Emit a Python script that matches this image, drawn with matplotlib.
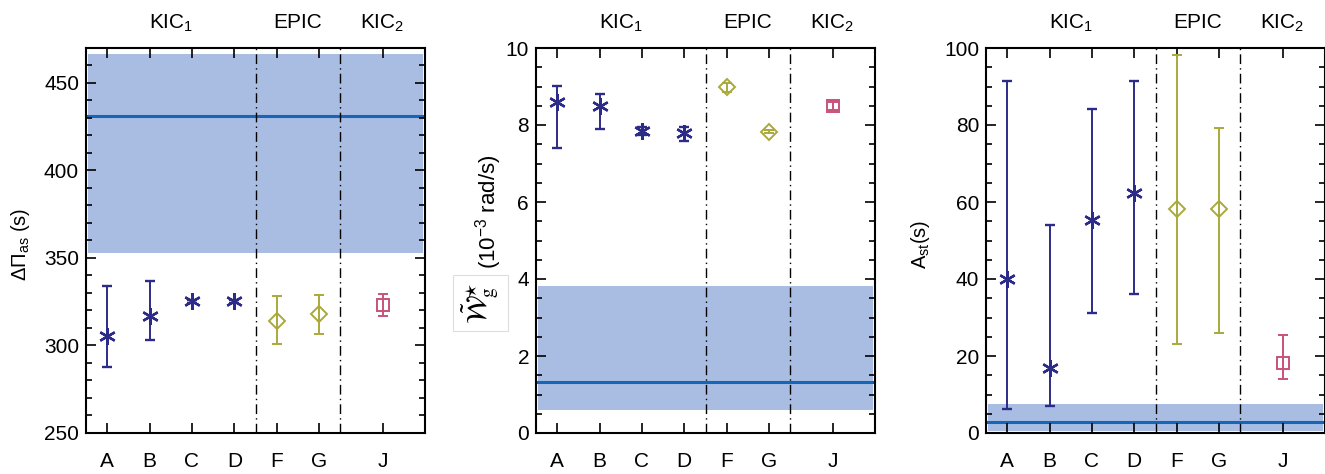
import matplotlib
matplotlib.use('Agg')
import matplotlib.pyplot as plt
import matplotlib.transforms as mtransforms
from matplotlib.ticker import MultipleLocator

plt.rcParams['font.family'] = ['Liberation Sans', 'DejaVu Sans']
plt.rcParams['mathtext.fontset'] = 'custom'
plt.rcParams['mathtext.rm'] = 'Liberation Sans'
plt.rcParams['mathtext.it'] = 'Liberation Sans:italic'

# stars and groups
etykiety = ['A', 'B', 'C', 'D', 'F', 'G', 'J']
pozycje = [1, 2, 3, 4, 5, 6, 7.5]
grupy = ['KIC$_1$', 'EPIC', 'KIC$_2$']
pozycje_grup = [2.5, 5.5, 7.5]
granice = [4.5, 6.5]

# panel 1: Delta Pi_as (s)
dpi_wart = [305.6, 316.7, 325.2, 325.2, 313.8, 318.0, 323.1]
dpi_gora = [334.2, 336.7, 326.2, 326.2, 328.1, 328.9, 329.2]
dpi_dol = [287.7, 303.0, 324.2, 324.2, 301.0, 306.7, 317.0]
dpi_pas = [352.9, 466.6]
dpi_linia = 431.0

# panel 2: W_g (1e-3 rad/s)
w_wart = [8.60, 8.50, 7.85, 7.79, 8.99, 7.83, 8.50]
w_gora = [9.02, 8.81, 7.95, 7.94, 9.10, 7.88, 8.61]
w_dol = [7.40, 7.90, 7.75, 7.58, 8.87, 7.78, 8.40]
w_pas = [0.61, 3.83]
w_linia = 1.32

# panel 3: A_st (s)
a_wart = [40.0, 17.0, 55.2, 62.3, 58.2, 58.2, 18.1]
a_gora = [91.4, 54.1, 84.2, 91.4, 98.2, 79.2, 25.5]
a_dol = [6.2, 7.1, 31.2, 36.2, 23.1, 26.1, 13.9]
a_pas = [0.5, 7.5]
a_linia = 2.8

granat = '#2d2b88'
oliwka = '#a9a93c'
roz = '#c8527a'
kolory = [granat] * 4 + [oliwka] * 2 + [roz]
markery = [(6, 2, 0)] * 4 + ['D'] * 2 + ['s']
rozmiary = [12] * 4 + [8] * 2 + [8]
kolor_pasa = '#a9bde3'
kolor_linii = '#1565b8'

fig = plt.figure(figsize=(13.25, 4.74), dpi=100)
lewe = [86, 536, 986]
osie = []
for l in lewe:
    osie.append(fig.add_axes([l / 1325, 1 - 433 / 474, 339 / 1325, 385 / 474]))


def rysuj_panel(ax, wart, gora, dol, pas, linia, ylim, major, minor):
    ax.axhspan(pas[0], pas[1], xmin=0.006, xmax=0.995, color=kolor_pasa, lw=0, zorder=0)
    ax.axhline(linia, xmin=0.006, xmax=0.995, color=kolor_linii, lw=2.2, zorder=1)
    for g in granice:
        ax.axvline(g, color='black', lw=1.0, dashes=(7, 3, 1, 3), zorder=2)
    for i in range(len(wart)):
        blad = [[wart[i] - dol[i]], [gora[i] - wart[i]]]
        if markery[i] == (6, 2, 0):
            ax.errorbar(pozycje[i], wart[i], yerr=blad, color=kolory[i], marker=markery[i],
                        ms=rozmiary[i], mew=1.7, lw=1.4, capsize=3.5, capthick=1.4, zorder=3)
        else:
            ax.errorbar(pozycje[i], wart[i], yerr=blad, color=kolory[i], marker=markery[i],
                        ms=rozmiary[i], mfc='none', mec=kolory[i], mew=1.4, lw=1.4,
                        capsize=3.5, capthick=1.4, zorder=3)
    ax.set_xlim(0.5, 8.5)
    ax.set_ylim(*ylim)
    ax.set_xticks(pozycje)
    ax.set_xticklabels(etykiety)
    ax.yaxis.set_major_locator(MultipleLocator(major))
    ax.yaxis.set_minor_locator(MultipleLocator(minor))
    ax.tick_params(axis='both', which='both', direction='in', top=True, right=True, width=1.2)
    ax.tick_params(axis='both', which='major', length=7, labelsize=15)
    ax.tick_params(axis='y', which='minor', length=4)
    ax.tick_params(axis='x', which='minor', bottom=False, top=False)
    ax.tick_params(axis='x', which='major', pad=14)
    ax.tick_params(axis='y', which='major', pad=5)
    for s in ax.spines.values():
        s.set_linewidth(1.5)
    tr = mtransforms.blended_transform_factory(ax.transData, ax.transAxes)
    for nazwa, xg in zip(grupy, pozycje_grup):
        ax.text(xg, 1.065, nazwa, transform=tr, ha='center', va='center', fontsize=15)


rysuj_panel(osie[0], dpi_wart, dpi_gora, dpi_dol, dpi_pas, dpi_linia, (250, 470), 50, 10)
rysuj_panel(osie[1], w_wart, w_gora, w_dol, w_pas, w_linia, (0, 10), 2, 0.5)
rysuj_panel(osie[2], a_wart, a_gora, a_dol, a_pas, a_linia, (0, 100), 20, 5)

osie[0].set_ylabel('ΔΠ$_{\\rm as}$ (s)', fontsize=14.5)
osie[0].yaxis.set_label_coords(-0.16, 0.49)
osie[2].set_ylabel('A$_{\\rm st}$(s)', fontsize=14.5)
osie[2].yaxis.set_label_coords(-0.16, 0.49)

osie[1].text(-0.14, 0.575, '(10$^{-3}$ rad/s)', transform=osie[1].transAxes, rotation=90,
             ha='center', va='center', fontsize=16)
osie[1].text(-0.163, 0.338, r'$\tilde{\mathcal{W}}^{\star}_{\rm g}$', transform=osie[1].transAxes,
             rotation=90, ha='center', va='center', fontsize=20, math_fontfamily='stix',
             bbox=dict(boxstyle='square,pad=0.25', fc='white', ec='#dddddd', lw=0.8))

fig.savefig('out.png', dpi=100)
